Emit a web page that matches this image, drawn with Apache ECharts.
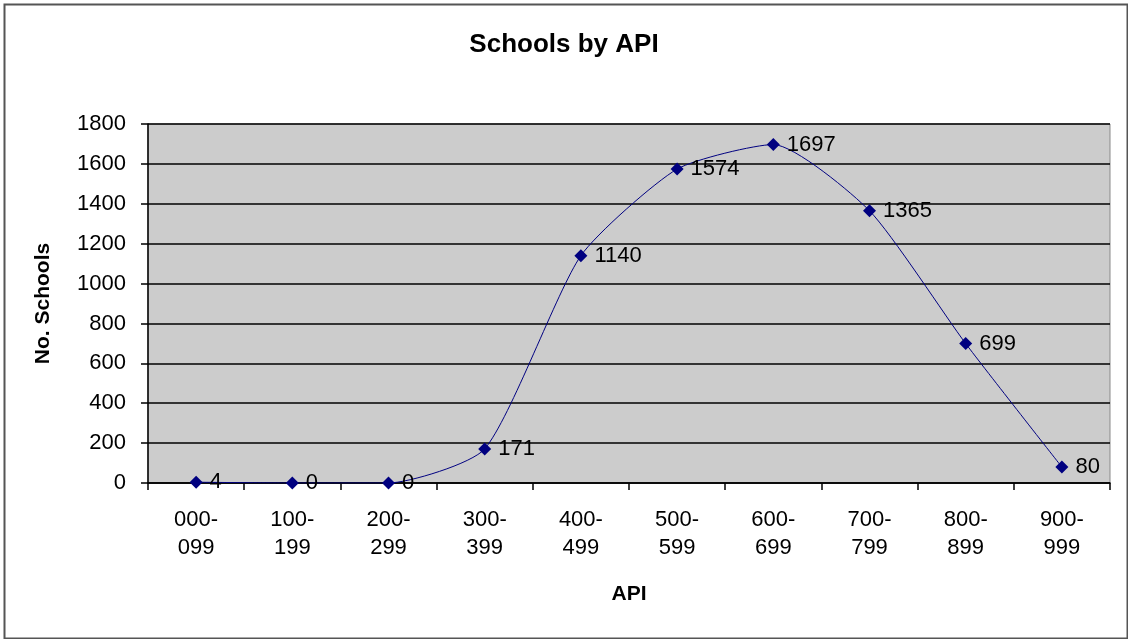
<!DOCTYPE html>
<html>
<head>
<meta charset="utf-8">
<script src="https://cdn.jsdelivr.net/npm/echarts@6/dist/echarts.min.js"></script>
<style>
html, body { margin: 0; padding: 0; background: #fff; }
#chart { width: 1128px; height: 639px; }
</style>
</head>
<body>
<div id="chart"></div>
<script>
// API 分段
var apiRanges = ['000-\n099', '100-\n199', '200-\n299', '300-\n399', '400-\n499',
	'500-\n599', '600-\n699', '700-\n799', '800-\n899', '900-\n999'];
// 学校数量
var schoolCounts = [4, 0, 0, 171, 1140, 1574, 1697, 1365, 699, 80];

var yMin = 0, yMax = 1800, yStep = 200;
var fontName = 'Arial, Liberation Sans, sans-serif';

function initSchoolChart(){
	var schoolChart = echarts.init(document.getElementById('chart'));
	var option = {
		animation: false,
		title: {
			text: 'Schools by API',
			left: 'center',
			top: 27,
			textStyle: {
				fontFamily: fontName,
				fontSize: 26,
				fontWeight: 'bold',
				color: '#000'
			}
		},
		graphic: [{
			type: 'rect',
			left: 2,
			top: 2,
			shape: { width: 1123, height: 634 },
			style: { fill: 'none', stroke: '#555', lineWidth: 2 },
			silent: true
		}],
		grid: {
			left: 148,
			right: 18,
			top: 124,
			bottom: 156,
			show: true,
			backgroundColor: '#cccccc',
			borderColor: '#8a8a8a',
			borderWidth: 1
		},
		xAxis: {
			type: 'category',
			data: apiRanges,
			boundaryGap: true,
			name: 'API',
			nameLocation: 'middle',
			nameGap: 101,
			nameTextStyle: {
				fontFamily: fontName,
				fontSize: 21,
				fontWeight: 'bold',
				color: '#000'
			},
			axisLine: { lineStyle: { color: '#000', width: 1.5 } },
			axisTick: { show: true, alignWithLabel: false, length: 7, lineStyle: { color: '#000', width: 1.5 } },
			axisLabel: {
				margin: 23,
				fontFamily: fontName,
				fontSize: 22,
				lineHeight: 28,
				color: '#000'
			},
			splitLine: { show: false }
		},
		yAxis: {
			type: 'value',
			min: yMin,
			max: yMax,
			interval: yStep,
			name: 'No. Schools',
			nameLocation: 'middle',
			nameGap: 94,
			nameTextStyle: {
				fontFamily: fontName,
				fontSize: 21,
				fontWeight: 'bold',
				color: '#000'
			},
			axisLine: { show: true, lineStyle: { color: '#000', width: 1.5 } },
			axisTick: { show: true, length: 7, lineStyle: { color: '#000', width: 1.5 } },
			axisLabel: {
				margin: 22,
				fontFamily: fontName,
				fontSize: 22,
				color: '#000',
				formatter: function(v){ return String(v); }
			},
			splitLine: { show: true, lineStyle: { color: '#000', width: 1.5 } }
		},
		series: [{
			name: 'Schools',
			type: 'line',
			data: schoolCounts,
			smooth: 0.2,
			symbol: 'diamond',
			symbolSize: 13,
			itemStyle: { color: '#000080' },
			lineStyle: { color: '#000080', width: 1 },
			label: {
				show: true,
				position: 'right',
				distance: 7,
				fontFamily: fontName,
				fontSize: 22,
				color: '#000'
			}
		}]
	};
	schoolChart.setOption(option);
}

initSchoolChart();
</script>
</body>
</html>
